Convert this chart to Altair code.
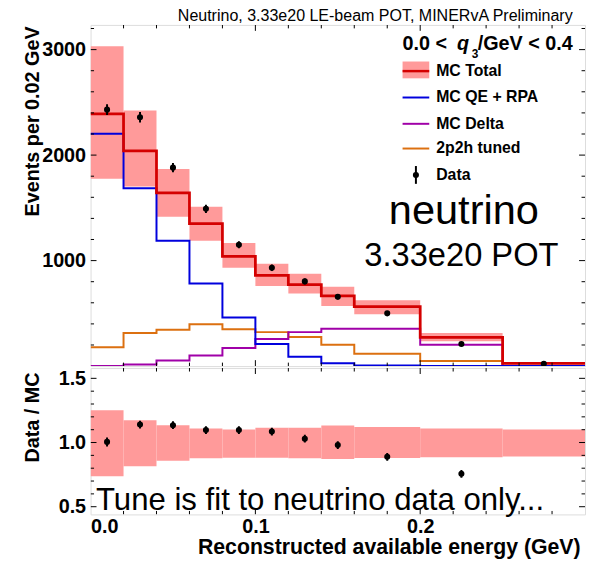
import altair as alt
import pandas as pd

# ---------------- data ----------------
edges = [0.0, 0.02, 0.04, 0.06, 0.08, 0.10, 0.12, 0.14, 0.16, 0.20, 0.25, 0.30]
centers = [0.01, 0.03, 0.05, 0.07, 0.09, 0.11, 0.13, 0.15, 0.18, 0.225, 0.275]

mc_total = [2391, 2040, 1641, 1350, 1041, 860, 772, 666, 563, 273, 25]
mc_lo = [1775, 1703, 1416, 1188, 932, 760, 688, 569, 491, 235, 15]
mc_hi = [3031, 2422, 1869, 1510, 1166, 969, 875, 751, 625, 313, 35]
mc_qe = [2203, 1685, 1188, 782, 460, 210, 88, 26, 6, 0, 0]
mc_delta = [0, 16, 53, 100, 172, 257, 322, 353, 353, 203, 2]
mc_2p2h = [179, 313, 344, 397, 350, 322, 276, 203, 116, 48, 0]

data_val = [2431, 2359, 1881, 1491, 1150, 932, 803, 657, 500, 210, 22]
data_err = [50, 49, 43, 39, 34, 31, 28, 26, 22, 15, 5]

ratio_val = [1.005, 1.14, 1.135, 1.097, 1.097, 1.085, 1.03, 0.98, 0.889, 0.756]
ratio_err = [0.035, 0.03, 0.03, 0.03, 0.03, 0.03, 0.03, 0.03, 0.03, 0.03]
ratio_lo = [0.738, 0.815, 0.859, 0.877, 0.882, 0.882, 0.877, 0.872, 0.879, 0.885, 0.892]
ratio_hi = [1.251, 1.174, 1.135, 1.110, 1.102, 1.115, 1.115, 1.133, 1.120, 1.110, 1.102]

x_minor = [0.02, 0.04, 0.06, 0.08, 0.12, 0.14, 0.16, 0.18, 0.22, 0.24, 0.26, 0.28]
x_major = [0.1, 0.2]
yt_minor = [200, 400, 600, 800, 1200, 1400, 1600, 1800, 2200, 2400, 2600, 2800, 3200]
yt_major = [1000, 2000, 3000]
yb_minor = [0.6, 0.7, 0.8, 0.9, 1.1, 1.2, 1.3, 1.4]
yb_major = [0.5, 1.0, 1.5]

# ---------------- styling ----------------
FONT = "Liberation Sans"
PINK = "#ff9a9a"
RED = "#d40000"
BLUE = "#0000dd"
PURPLE = "#a000a8"
ORANGE = "#dc7010"
W, H1, H2 = 500, 345, 148

xs = alt.Scale(domain=[0, 0.3], nice=False, zero=False)
ys_top = alt.Scale(domain=[0, 3234], nice=False, zero=False)
ys_bot = alt.Scale(domain=[0.44, 1.58], nice=False, zero=False)

common_axis = dict(grid=False, domain=False, ticks=False, tickSize=0,
                   labelFont=FONT, labelFontSize=20, labelFontWeight="bold",
                   labelColor="black", titleFont=FONT, titleFontSize=20,
                   titleFontWeight="bold", titleColor="black")

yaxis_top = alt.Axis(values=yt_major, format="d", title="Events per 0.02 GeV",
                     labelPadding=5, titleAngle=-90, titleX=-53, titleY=1,
                     titleAlign="right", titleBaseline="alphabetic", **common_axis)
yaxis_bot = alt.Axis(values=yb_major, format=".1f", title="Data / MC",
                     labelPadding=5, titleAngle=-90, titleX=-53, titleY=4,
                     titleAlign="right", titleBaseline="alphabetic", **common_axis)
xaxis_bot = alt.Axis(values=[0, 0.1, 0.2], format=".1f",
                     title="Reconstructed available energy (GeV)",
                     labelPadding=2, titleX=495, titleY=40, titleAlign="right",
                     titleAnchor="start", titleBaseline="alphabetic",
                     **{**common_axis, "titleFontSize": 21.5})


def hticks(vals, y0, y1, xaxis):
    df = pd.DataFrame({"t": vals})
    return alt.Chart(df).mark_rule(color="black", strokeWidth=1, clip=True).encode(
        x=alt.X("t:Q", scale=xs, axis=xaxis), y=alt.value(y0), y2=alt.value(y1))


def vticks(vals, x0, x1, yscale, yaxis):
    df = pd.DataFrame({"t": vals})
    return alt.Chart(df).mark_rule(color="black", strokeWidth=1, clip=True).encode(
        y=alt.Y("t:Q", scale=yscale, axis=yaxis), x=alt.value(x0), x2=alt.value(x1))


def step_df(vals):
    return pd.DataFrame({"x": edges, "y": vals + [vals[-1]]})


def text(s, x, y, size, weight="normal", align="left", style="normal", baseline="alphabetic"):
    return alt.Chart(pd.DataFrame({"a": [0]})).mark_text(
        font=FONT, fontSize=size, fontWeight=weight, fontStyle=style, align=align,
        baseline=baseline, color="black").encode(
        x=alt.value(x), y=alt.value(y), text=alt.value(s))


# ---------------- top panel ----------------
band_df = pd.DataFrame({"x": edges[:-1], "x2": edges[1:], "lo": mc_lo, "hi": mc_hi})
band = alt.Chart(band_df).mark_rect(color=PINK, clip=True).encode(
    x=alt.X("x:Q", scale=xs, axis=None), x2="x2",
    y=alt.Y("lo:Q", scale=ys_top, axis=yaxis_top), y2="hi")


def step_line(vals, color, width):
    return alt.Chart(step_df(vals)).mark_line(
        interpolate="step-after", color=color, strokeWidth=width, clip=True).encode(
        x=alt.X("x:Q", scale=xs, axis=None),
        y=alt.Y("y:Q", scale=ys_top, axis=yaxis_top))


data_df = pd.DataFrame({"x": centers, "y": data_val,
                        "lo": [v - e for v, e in zip(data_val, data_err)],
                        "hi": [v + e for v, e in zip(data_val, data_err)]})
data_err_layer = alt.Chart(data_df).mark_rule(color="black", strokeWidth=2, clip=True).encode(
    x=alt.X("x:Q", scale=xs, axis=None),
    y=alt.Y("lo:Q", scale=ys_top, axis=yaxis_top), y2="hi")
data_pts = alt.Chart(data_df).mark_point(filled=True, shape="circle", size=38, clip=True,
                                         color="black", opacity=1).encode(
    x=alt.X("x:Q", scale=xs, axis=None),
    y=alt.Y("y:Q", scale=ys_top, axis=yaxis_top))

# legend (drawn by hand, pixel positions inside the plot)
LX0, LX1, TX = 315.5, 342.5, 349.5
leg_rows = [46.7, 73.4, 100.0, 125.0, 151.7]
one = pd.DataFrame({"a": [0]})
legend_layers = [
    alt.Chart(one).mark_rect(color=PINK).encode(
        x=alt.value(LX0), x2=alt.value(LX1), y=alt.value(37), y2=alt.value(54)),
    alt.Chart(one).mark_rule(color=RED, strokeWidth=2.5).encode(
        x=alt.value(LX0), x2=alt.value(LX1), y=alt.value(leg_rows[0])),
    alt.Chart(one).mark_rule(color=BLUE, strokeWidth=2).encode(
        x=alt.value(LX0), x2=alt.value(LX1), y=alt.value(leg_rows[1])),
    alt.Chart(one).mark_rule(color=PURPLE, strokeWidth=2).encode(
        x=alt.value(LX0), x2=alt.value(LX1), y=alt.value(leg_rows[2])),
    alt.Chart(one).mark_rule(color=ORANGE, strokeWidth=2).encode(
        x=alt.value(LX0), x2=alt.value(LX1), y=alt.value(leg_rows[3])),
    alt.Chart(one).mark_rule(color="black", strokeWidth=2).encode(
        x=alt.value(329), y=alt.value(leg_rows[4] - 9), y2=alt.value(leg_rows[4] + 9)),
    alt.Chart(one).mark_point(filled=True, shape="circle", size=38,
                              color="black", opacity=1).encode(
        x=alt.value(329), y=alt.value(leg_rows[4])),
]
for label, yy in zip(["MC Total", "MC QE + RPA", "MC Delta", "2p2h tuned", "Data"], leg_rows):
    legend_layers.append(text(label, TX, yy, 16, weight="bold", baseline="middle"))

legend_layers += [
    text("0.0 <", 315.5, 25, 20, weight="bold"),
    text("q", 370.5, 25, 20, weight="bold", style="italic"),
    text("3", 385.5, 33.5, 12, weight="bold"),
    text("/GeV < 0.4", 391.5, 25, 20, weight="bold"),
    text("neutrino", 377.5, 201.7, 42, align="center"),
    text("3.33e20 POT", 375, 244, 33, align="center"),
    text("Neutrino, 3.33e20 LE-beam POT, MINERvA Preliminary", 487.5, -3.5, 16.2, align="right"),
]

top = alt.layer(
    band,
    step_line(mc_2p2h, ORANGE, 2),
    step_line(mc_delta, PURPLE, 2),
    step_line(mc_qe, BLUE, 2),
    step_line(mc_total, RED, 2.8),
    data_err_layer, data_pts,
    hticks(x_minor, 0, 3.5, None), hticks(x_major, 0, 6, None),
    hticks(x_minor, H1, H1 - 3.5, None), hticks(x_major, H1, H1 - 6, None),
    vticks(yt_minor, 0, 3.5, ys_top, yaxis_top), vticks(yt_major, 0, 6, ys_top, yaxis_top),
    vticks(yt_minor, W, W - 3.5, ys_top, yaxis_top), vticks(yt_major, W, W - 6, ys_top, yaxis_top),
    *legend_layers,
).properties(width=W, height=H1)

# ---------------- ratio panel ----------------
rband_df = pd.DataFrame({"x": edges[:-1], "x2": edges[1:], "lo": ratio_lo, "hi": ratio_hi})
rband = alt.Chart(rband_df).mark_rect(color=PINK, clip=True).encode(
    x=alt.X("x:Q", scale=xs, axis=xaxis_bot), x2="x2",
    y=alt.Y("lo:Q", scale=ys_bot, axis=yaxis_bot), y2="hi")

r_df = pd.DataFrame({"x": centers[:len(ratio_val)], "y": ratio_val,
                     "lo": [v - e for v, e in zip(ratio_val, ratio_err)],
                     "hi": [v + e for v, e in zip(ratio_val, ratio_err)]})
r_err = alt.Chart(r_df).mark_rule(color="black", strokeWidth=2, clip=True).encode(
    x=alt.X("x:Q", scale=xs, axis=xaxis_bot),
    y=alt.Y("lo:Q", scale=ys_bot, axis=yaxis_bot), y2="hi")
r_pts = alt.Chart(r_df).mark_point(filled=True, shape="circle", size=38, clip=True,
                                   color="black", opacity=1).encode(
    x=alt.X("x:Q", scale=xs, axis=xaxis_bot),
    y=alt.Y("y:Q", scale=ys_bot, axis=yaxis_bot))

bottom = alt.layer(
    rband, r_err, r_pts,
    hticks(x_minor, 0, 3.5, xaxis_bot), hticks(x_major, 0, 6, xaxis_bot),
    hticks(x_minor, H2, H2 - 3.5, xaxis_bot), hticks(x_major, H2, H2 - 6, xaxis_bot),
    vticks(yb_minor, 0, 3.5, ys_bot, yaxis_bot), vticks(yb_major, 0, 6, ys_bot, yaxis_bot),
    vticks(yb_minor, W, W - 3.5, ys_bot, yaxis_bot), vticks(yb_major, W, W - 6, ys_bot, yaxis_bot),
    text("Tune is fit to neutrino data only...", 5.5, 143.4, 31.5),
).properties(width=W, height=H2)

chart = alt.vconcat(top, bottom, spacing=0).properties(
    padding={"left": 13.5, "top": -3, "right": 0, "bottom": 0}
).configure_view(stroke="black", strokeWidth=1.5).configure(background="white")

chart.save("out.html", embed_options={"renderer": "svg", "actions": False})
